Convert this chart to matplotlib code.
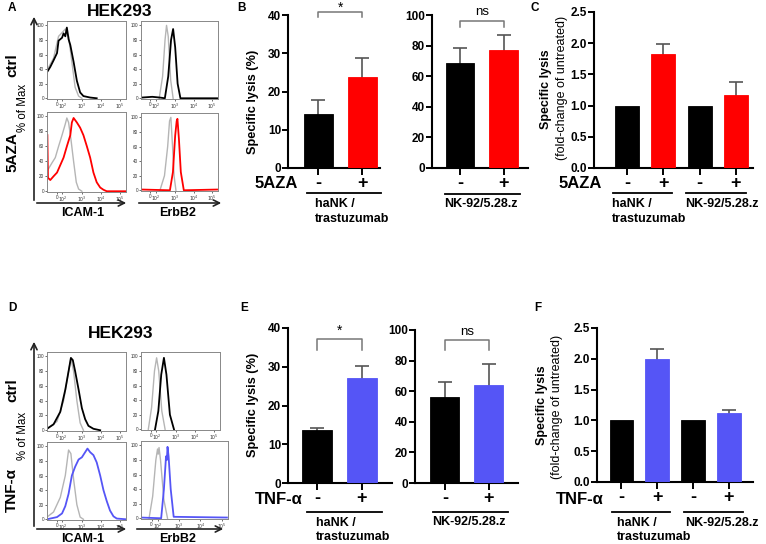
import numpy as np
import matplotlib
matplotlib.use('Agg')
import matplotlib.pyplot as plt
from matplotlib.patches import FancyArrowPatch
from matplotlib.lines import Line2D

W, H = 766, 544
plt.rcParams['font.family'] = ['Liberation Sans', 'DejaVu Sans']

# ---- bar data ----
lysis_5aza_hank = [14.0, 23.9]
lysis_5aza_hank_err = [3.7, 4.8]
lysis_5aza_nk92 = [68.8, 77.3]
lysis_5aza_nk92_err = [9.8, 9.6]
fold_5aza = [1.0, 1.83, 1.0, 1.17]
fold_5aza_err = [0, 0.15, 0, 0.21]

lysis_tnf_hank = [13.6, 27.1]
lysis_tnf_hank_err = [0.6, 3.0]
lysis_tnf_nk92 = [55.9, 63.8]
lysis_tnf_nk92_err = [10.3, 14.2]
fold_tnf = [1.0, 1.99, 1.0, 1.12]
fold_tnf_err = [0, 0.17, 0, 0.05]

treat_labels = ['-', '+', '-', '+']

# ---- flow histograms (x in decades, y in % of max) ----
flow_tick_pos = [1.7, 2, 3, 4, 5]
flow_tick_labels = ['0', '$10^2$', '$10^3$', '$10^4$', '$10^5$']

icam_ctrl_iso_x = [1.23, 1.54, 1.80, 1.98, 2.15, 2.32, 2.49, 2.66, 2.84, 3.01]
icam_ctrl_iso_y = [40, 55, 85, 90, 95, 85, 50, 15, 3, 0]
icam_ctrl_x = [1.23, 1.37, 1.54, 1.72, 1.80, 1.98, 2.06, 2.15, 2.23, 2.32, 2.41, 2.58, 2.75, 2.92, 3.09, 3.44, 3.78]
icam_ctrl_y = [37, 43, 52, 62, 79, 83, 89, 85, 97, 81, 73, 50, 24, 8, 3, 1, 0]

icam_aza_iso_x = [1.23, 1.46, 1.63, 1.80, 1.98, 2.15, 2.23, 2.32, 2.44, 2.58, 2.72, 2.84, 3.01]
icam_aza_iso_y = [28, 38, 45, 60, 75, 90, 98, 92, 70, 40, 12, 3, 0]
icam_aza_x = [1.22, 1.25, 1.37, 1.54, 1.72, 1.89, 2.06, 2.23, 2.41, 2.49, 2.58, 2.75, 2.92, 3.09, 3.27, 3.44, 3.61, 3.78, 3.96, 4.13, 4.30, 5.30]
icam_aza_y = [75, 18, 15, 20, 25, 35, 45, 60, 75, 92, 98, 92, 85, 75, 60, 45, 25, 12, 5, 2, 0, 0]

erb_ctrl_iso_x = [2.17, 2.35, 2.48, 2.56, 2.65, 2.78, 2.91]
erb_ctrl_iso_y = [0, 30, 80, 100, 85, 25, 0]
erb_ctrl_x = [1.25, 1.8, 2.2, 2.47, 2.65, 2.80, 2.91, 3.02, 3.15, 3.30, 5.25]
erb_ctrl_y = [1, 2, 1, 0, 30, 80, 95, 70, 20, 0, 0]

erb_aza_iso_x = [2.21, 2.45, 2.62, 2.72, 2.79, 2.88, 2.96, 3.06]
erb_aza_iso_y = [0, 20, 60, 95, 100, 60, 20, 0]
erb_aza_x = [1.25, 2.74, 2.90, 3.02, 3.10, 3.14, 3.22, 3.32, 3.48, 5.25]
erb_aza_y = [1, 0, 25, 75, 95, 98, 70, 25, 0, 1]

icam_tctrl_iso_x = [1.20, 1.72, 2.06, 2.32, 2.44, 2.58, 2.75, 2.92, 3.09]
icam_tctrl_iso_y = [2, 12, 40, 80, 97, 80, 40, 10, 0]
icam_tctrl_x = [1.20, 1.54, 1.89, 2.15, 2.32, 2.44, 2.54, 2.66, 2.84, 3.01, 3.18, 3.35, 3.61, 3.96]
icam_tctrl_y = [2, 8, 25, 55, 80, 98, 95, 80, 55, 30, 15, 6, 2, 0]

icam_tnf_iso_x = [1.20, 1.54, 1.89, 2.15, 2.32, 2.44, 2.58, 2.75, 2.92, 3.09]
icam_tnf_iso_y = [3, 10, 30, 60, 95, 90, 55, 20, 3, 0]
icam_tnf_x = [1.20, 1.72, 1.98, 2.15, 2.32, 2.49, 2.66, 2.84, 3.01, 3.18, 3.30, 3.44, 3.61, 3.78, 3.96, 4.13, 4.30, 4.47, 4.65, 4.82, 5.30]
icam_tnf_y = [0, 3, 8, 18, 35, 60, 72, 82, 85, 92, 97, 92, 88, 78, 60, 40, 25, 12, 4, 1, 0]

erb_tctrl_iso_x = [1.58, 1.75, 1.90, 2.01, 2.12, 2.28, 2.45]
erb_tctrl_iso_y = [0, 30, 80, 98, 80, 25, 0]
erb_tctrl_x = [1.93, 2.10, 2.25, 2.39, 2.52, 2.70, 2.91]
erb_tctrl_y = [0, 25, 75, 98, 75, 20, 0]

erb_tnf_iso_x = [1.58, 1.75, 1.90, 1.98, 2.01, 2.05, 2.12, 2.28, 2.45]
erb_tnf_iso_y = [0, 30, 80, 95, 88, 97, 80, 25, 0]
erb_tnf_x = [1.2, 2.15, 2.28, 2.38, 2.42, 2.45, 2.50, 2.60, 2.74, 5.25]
erb_tnf_y = [1, 0, 40, 85, 80, 98, 85, 40, 2, 1]

GRAY = '#b5b5b5'
RED = '#ff0000'
BLUE = '#5555f6'

fig = plt.figure(figsize=(W / 100, H / 100), dpi=100)


def px(x, y):
    return x / W, 1 - y / H


def ax_px(x0, y0, x1, y1):
    return fig.add_axes([x0 / W, 1 - y1 / H, (x1 - x0) / W, (y1 - y0) / H])


def text(x, y, s, **kw):
    fig.text(*px(x, y), s, **kw)


def line(x0, x1, y, lw=1.3):
    fig.add_artist(Line2D([x0 / W, x1 / W], [1 - y / H, 1 - y / H], color='black', lw=lw))


def arrow(x0, y0, x1, y1):
    fig.add_artist(FancyArrowPatch(px(x0, y0), px(x1, y1), transform=fig.transFigure,
                                   arrowstyle='->', mutation_scale=11, lw=1.2, color='#222'))


def hist_panel(rect, iso_x, iso_y, xs, ys, color):
    ax = ax_px(*rect)
    ax.plot(iso_x, iso_y, color=GRAY, lw=1.0)
    ax.plot(xs, ys, color=color, lw=1.3)
    ax.set_xlim(1.2, 5.3)
    ax.set_ylim(-1, 106)
    ax.set_xticks(flow_tick_pos)
    ax.set_xticklabels(flow_tick_labels)
    ax.set_yticks(range(0, 101, 20))
    ax.tick_params(labelsize=3.3, length=1.2, width=0.5, pad=0.8, colors='#333')
    for s in ax.spines.values():
        s.set_color('#888')
        s.set_linewidth(0.7)
    return ax


def bar_panel(rect, vals, errs, colors, ymax, ystep, xlim, fmt='%d'):
    ax = ax_px(*rect)
    x = np.arange(len(vals))
    ax.bar(x, vals, width=0.66, color=colors, edgecolor=colors, linewidth=0.6, zorder=3)
    for xi, v, e in zip(x, vals, errs):
        if e > 0:
            # symmetric bar: the lower half is hidden behind the bar
            ax.errorbar(xi, v, yerr=e, fmt='none', ecolor='#555', elinewidth=1.2,
                        capsize=4.7, capthick=1.2, zorder=2)
    ax.set_xlim(*xlim)
    ax.set_ylim(0, ymax)
    ticks = np.arange(0, ymax + ystep / 2, ystep)
    ax.set_yticks(ticks)
    ax.set_yticklabels([fmt % t for t in ticks], fontweight='bold', fontsize=8.5)
    ax.set_xticks(x)
    ax.set_xticklabels(treat_labels[:len(vals)], fontweight='bold', fontsize=13)
    ax.tick_params(axis='y', length=4, width=1.4, pad=1)
    ax.tick_params(axis='x', length=5, width=1.4, pad=0)
    for s in ['top', 'right']:
        ax.spines[s].set_visible(False)
    for s in ['left', 'bottom']:
        ax.spines[s].set_linewidth(1.5)
    ax.patch.set_alpha(0)
    return ax


def bracket(ax, y0, y1, label, ylab, size):
    ax.plot([0, 0, 1, 1], [y0, y1, y1, y0], color='#777', lw=1.1, clip_on=False)
    ax.text(0.5, ylab, label, ha='center', va='center', fontsize=size)


# ================= top row =================
text(12, 8, 'A', fontsize=8.5, fontweight='bold', ha='center', va='center')
text(120, 11, 'HEK293', fontsize=12.5, fontweight='bold', ha='center', va='center')
hist_panel((47, 21, 126, 99), icam_ctrl_iso_x, icam_ctrl_iso_y, icam_ctrl_x, icam_ctrl_y, 'black')
hist_panel((47, 112, 126, 192), icam_aza_iso_x, icam_aza_iso_y, icam_aza_x, icam_aza_y, RED)
hist_panel((141, 21, 218, 99), erb_ctrl_iso_x, erb_ctrl_iso_y, erb_ctrl_x, erb_ctrl_y, 'black')
hist_panel((141, 113, 218, 191), erb_aza_iso_x, erb_aza_iso_y, erb_aza_x, erb_aza_y, RED)
arrow(34, 203, 34, 14)
arrow(34, 203, 129, 203)
arrow(136, 203, 224, 203)
text(12, 65, 'ctrl', fontsize=11, fontweight='bold', rotation=90, ha='center', va='center')
text(12, 152, '5AZA', fontsize=11, fontweight='bold', rotation=90, ha='center', va='center')
text(23, 108, '% of Max', fontsize=8.3, rotation=90, ha='center', va='center')
text(83, 213, 'ICAM-1', fontsize=9, fontweight='bold', ha='center', va='center')
text(178, 213, 'ErbB2', fontsize=9, fontweight='bold', ha='center', va='center')

text(241, 8, 'B', fontsize=8.5, fontweight='bold', ha='center', va='center')
axB1 = bar_panel((288, 15, 380, 168), lysis_5aza_hank, lysis_5aza_hank_err, ['black', RED], 40, 10, (-0.69, 1.40))
bracket(axB1, 39.5, 40.8, '*', 42.0, 10)
axB2 = bar_panel((432, 15, 528, 168), lysis_5aza_nk92, lysis_5aza_nk92_err, ['black', RED], 100, 20, (-0.64, 1.56))
bracket(axB2, 92, 96.3, 'ns', 102, 9.5)
text(253, 102, 'Specific lysis (%)', fontsize=9.2, fontweight='bold', rotation=90, ha='center', va='center')
text(298, 183, '5AZA', fontsize=12, fontweight='bold', ha='right', va='center')
line(307, 381, 193)
line(445, 520, 194)
text(315, 204, 'haNK /', fontsize=9, fontweight='bold', ha='left', va='center')
text(315, 219, 'trastuzumab', fontsize=9, fontweight='bold', ha='left', va='center')
text(481, 204, 'NK-92/5.28.z', fontsize=9, fontweight='bold', ha='center', va='center')

text(535, 8, 'C', fontsize=8.5, fontweight='bold', ha='center', va='center')
axC = bar_panel((594, 12, 753, 168), fold_5aza, fold_5aza_err, ['black', RED, 'black', RED], 2.5, 0.5,
                (-0.91, 3.47), fmt='%.1f')
text(546, 89, 'Specific lysis', fontsize=9, fontweight='bold', rotation=90, ha='center', va='center')
text(562, 88, '(fold-change of untreated)', fontsize=9, rotation=90, ha='center', va='center')
text(602, 183, '5AZA', fontsize=12, fontweight='bold', ha='right', va='center')
line(613, 672, 193)
line(686, 746, 193)
text(612, 204, 'haNK /', fontsize=9, fontweight='bold', ha='left', va='center')
text(612, 219, 'trastuzumab', fontsize=9, fontweight='bold', ha='left', va='center')
text(685, 204, 'NK-92/5.28.z', fontsize=9, fontweight='bold', ha='left', va='center')

# ================= bottom row =================
text(12, 308, 'D', fontsize=8.5, fontweight='bold', ha='center', va='center')
text(121, 334, 'HEK293', fontsize=12.5, fontweight='bold', ha='center', va='center')
hist_panel((47, 352, 126, 431), icam_tctrl_iso_x, icam_tctrl_iso_y, icam_tctrl_x, icam_tctrl_y, 'black')
hist_panel((47, 442, 126, 520), icam_tnf_iso_x, icam_tnf_iso_y, icam_tnf_x, icam_tnf_y, BLUE)
hist_panel((141, 352, 220, 430), erb_tctrl_iso_x, erb_tctrl_iso_y, erb_tctrl_x, erb_tctrl_y, 'black')
hist_panel((141, 441, 228, 519), erb_tnf_iso_x, erb_tnf_iso_y, erb_tnf_x, erb_tnf_y, BLUE)
arrow(34, 529, 34, 339)
arrow(34, 529, 129, 529)
arrow(134, 529, 226, 529)
text(12, 390, 'ctrl', fontsize=11, fontweight='bold', rotation=90, ha='center', va='center')
text(12, 490, 'TNF-α', fontsize=11, fontweight='bold', rotation=90, ha='center', va='center')
text(23, 436, '% of Max', fontsize=8.3, rotation=90, ha='center', va='center')
text(83, 539, 'ICAM-1', fontsize=9, fontweight='bold', ha='center', va='center')
text(178, 539, 'ErbB2', fontsize=9, fontweight='bold', ha='center', va='center')

text(244, 308, 'E', fontsize=8.5, fontweight='bold', ha='center', va='center')
axE1 = bar_panel((288, 328, 392, 483), lysis_tnf_hank, lysis_tnf_hank_err, ['black', BLUE], 40, 10, (-0.64, 1.67))
bracket(axE1, 34.3, 37.2, '*', 39.4, 10)
axE2 = bar_panel((415, 330, 518, 483), lysis_tnf_nk92, lysis_tnf_nk92_err, ['black', BLUE], 100, 20, (-0.68, 1.66))
bracket(axE2, 87, 93.5, 'ns', 98.5, 9.5)
text(253, 405, 'Specific lysis (%)', fontsize=9.2, fontweight='bold', rotation=90, ha='center', va='center')
text(303, 500, 'TNF-α', fontsize=12, fontweight='bold', ha='right', va='center')
line(307, 382, 512)
line(433, 508, 512)
text(316, 523, 'haNK /', fontsize=9, fontweight='bold', ha='left', va='center')
text(316, 537, 'trastuzumab', fontsize=9, fontweight='bold', ha='left', va='center')
text(469, 522, 'NK-92/5.28.z', fontsize=9, fontweight='bold', ha='center', va='center')

text(538, 308, 'F', fontsize=8.5, fontweight='bold', ha='center', va='center')
axF = bar_panel((597, 328, 753, 482), fold_tnf, fold_tnf_err, ['black', BLUE, 'black', BLUE], 2.5, 0.5,
                (-0.68, 3.67), fmt='%.1f')
text(542, 405, 'Specific lysis', fontsize=9, fontweight='bold', rotation=90, ha='center', va='center')
text(557, 407, '(fold-change of untreated)', fontsize=9, rotation=90, ha='center', va='center')
text(604, 500, 'TNF-α', fontsize=12, fontweight='bold', ha='right', va='center')
line(612, 670, 512)
line(684, 743, 512)
text(617, 523, 'haNK /', fontsize=9, fontweight='bold', ha='left', va='center')
text(617, 537, 'trastuzumab', fontsize=9, fontweight='bold', ha='left', va='center')
text(685, 523, 'NK-92/5.28.z', fontsize=9, fontweight='bold', ha='left', va='center')

fig.savefig('out.png', dpi=100)
